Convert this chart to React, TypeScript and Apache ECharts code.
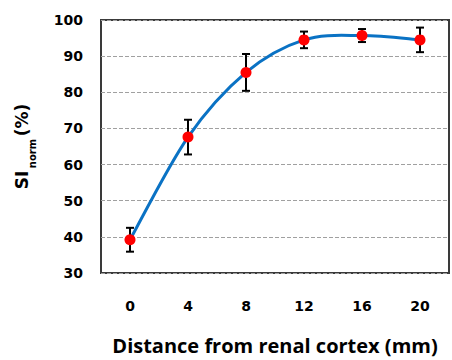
import React, { useEffect, useRef } from "react";
import * as echarts from "echarts";

const distances = [0, 4, 8, 12, 16, 20];
const siNorm = [39.2, 67.6, 85.5, 94.5, 95.7, 94.5];
const errors = [3.3, 4.8, 5.1, 2.3, 1.8, 3.4];
const xTickLabels = [0, 4, 8, 12, 16, 20];

export default function App() {
  const ref = useRef<HTMLDivElement>(null);
  useEffect(() => {
    if (!ref.current) return;
    const chart = echarts.init(ref.current, null, { renderer: "svg" });
    const errData = distances.map((d, i) => [d, siNorm[i] - errors[i], siNorm[i] + errors[i]]);
    const pts = distances.map((d, i) => [d, siNorm[i]]);
    chart.setOption({
      animation: false,
      backgroundColor: "#ffffff",
      grid: {
        left: 101,
        top: 20,
        bottom: 84,
        right: -9,
        show: true,
        borderColor: "#3a3a3a",
        borderWidth: 2,
        backgroundColor: "transparent",
      },
      xAxis: {
        type: "value",
        min: -2,
        max: 22,
        interval: 2,
        axisLine: { show: false },
        axisTick: { show: false },
        splitLine: { show: false },
        axisLabel: {
          margin: 26,
          fontFamily: "DejaVu Sans",
          fontWeight: "bold",
          fontSize: 14,
          color: "#000",
          formatter: (v: number) => (xTickLabels.indexOf(v) >= 0 ? String(v) : ""),
        },
        name: "Distance from renal cortex (mm)",
        nameLocation: "middle",
        nameGap: 62,
        nameTextStyle: {
          fontFamily: "Open Sans",
          fontWeight: "bold",
          fontSize: 20,
          color: "#000",
        },
      },
      yAxis: {
        type: "value",
        min: 30,
        max: 100,
        interval: 10,
        axisLine: { show: false },
        axisTick: { show: false },
        splitLine: {
          show: true,
          lineStyle: { color: "#a0a0a0", type: [4, 2], width: 1 },
        },
        axisLabel: {
          margin: 18,
          fontFamily: "DejaVu Sans",
          fontWeight: "bold",
          fontSize: 14,
          color: "#000",
        },
        name: "{a|SI}{s| }{b|norm}{s| }{a|(%)}",
        nameLocation: "middle",
        nameRotate: 90,
        nameGap: 68,
        nameTextStyle: {
          rich: {
            a: {
              fontFamily: "DejaVu Sans",
              fontWeight: "bold",
              fontSize: 17,
              color: "#000",
              lineHeight: 22,
            },
            s: { fontSize: 9, lineHeight: 22 },
            b: {
              fontFamily: "DejaVu Sans",
              fontWeight: "bold",
              fontSize: 10,
              color: "#000",
              lineHeight: 22,
              verticalAlign: "bottom",
              padding: [0, 0, -4, 0],
            },
          },
        },
      },
      series: [
        {
          type: "custom",
          z: 1,
          data: errData,
          renderItem: (params: any, api: any) => {
            const x = api.value(0);
            const lo = api.coord([x, api.value(1)]);
            const hi = api.coord([x, api.value(2)]);
            const w = 4;
            const st = { stroke: "#000", lineWidth: 2 };
            return {
              type: "group",
              children: [
                { type: "line", shape: { x1: hi[0], y1: hi[1], x2: lo[0], y2: lo[1] }, style: st },
                { type: "line", shape: { x1: hi[0] - w, y1: hi[1], x2: hi[0] + w, y2: hi[1] }, style: st },
                { type: "line", shape: { x1: lo[0] - w, y1: lo[1], x2: lo[0] + w, y2: lo[1] }, style: st },
              ],
            };
          },
        },
        {
          type: "custom",
          z: 2,
          data: pts.slice(0, pts.length - 1),
          renderItem: (params: any, api: any) => {
            const i = params.dataIndex;
            const c = pts.map((p) => api.coord(p));
            const p0 = c[Math.max(i - 1, 0)];
            const p1 = c[i];
            const p2 = c[i + 1];
            const p3 = c[Math.min(i + 2, c.length - 1)];
            const t = 1 / 6;
            const cp1 = [p1[0] + (p2[0] - p0[0]) * t, p1[1] + (p2[1] - p0[1]) * t];
            const cp2 = [p2[0] - (p3[0] - p1[0]) * t, p2[1] - (p3[1] - p1[1]) * t];
            return {
              type: "bezierCurve",
              shape: {
                x1: p1[0], y1: p1[1],
                cpx1: cp1[0], cpy1: cp1[1],
                cpx2: cp2[0], cpy2: cp2[1],
                x2: p2[0], y2: p2[1],
              },
              style: { stroke: "#0A72C4", lineWidth: 3, fill: null, lineCap: "round" },
            };
          },
        },
        {
          type: "scatter",
          z: 3,
          data: pts,
          symbol: "circle",
          symbolSize: 11,
          itemStyle: { color: "#FF0000", borderWidth: 0, opacity: 1 },
        },
      ],
    });
    return () => chart.dispose();
  }, []);
  return (
    <div
      ref={ref}
      style={{ position: "fixed", left: 0, top: 0, width: 452, height: 360 }}
    />
  );
}
